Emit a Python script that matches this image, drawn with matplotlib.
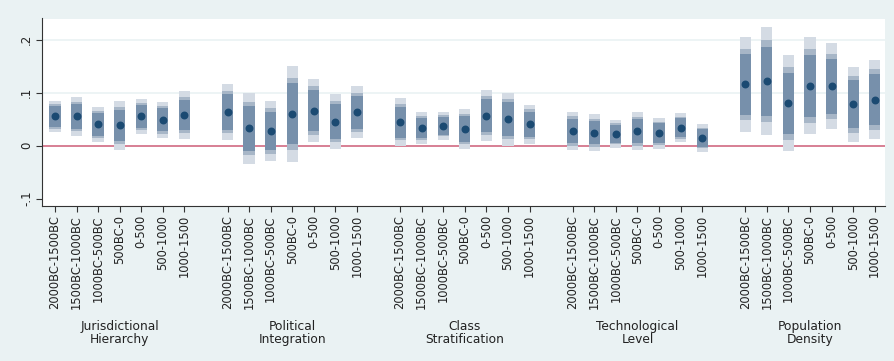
import numpy as np
import matplotlib.pyplot as plt
from matplotlib.transforms import blended_transform_factory

# Group names and periods
groups = ['Jurisdictional\nHierarchy', 'Political\nIntegration', 'Class\nStratification',
          'Technological\nLevel', 'Population\nDensity']
periods = ['2000BC-1500BC', '1500BC-1000BC', '1000BC-500BC', '500BC-0',
           '0-500', '500-1000', '1000-1500']

# Point estimates per group
coef_jh = [0.055, 0.055, 0.040, 0.038, 0.055, 0.0485, 0.058]
coef_pi = [0.063, 0.0325, 0.028, 0.060, 0.066, 0.0455, 0.063]
coef_cs = [0.044, 0.0335, 0.0375, 0.031, 0.0567, 0.0497, 0.040]
coef_tl = [0.0275, 0.0247, 0.0222, 0.0271, 0.0233, 0.0339, 0.0146]
coef_pd = [0.1155, 0.1218, 0.080, 0.113, 0.112, 0.078, 0.087]

# Standard errors (from the interval widths)
se_jh = [0.0116, 0.0144, 0.0128, 0.0179, 0.0128, 0.0132, 0.0175]
se_pi = [0.0204, 0.0258, 0.0219, 0.0350, 0.0233, 0.0199, 0.0190]
se_cs = [0.0175, 0.0119, 0.0103, 0.0146, 0.0188, 0.0193, 0.0144]
se_tl = [0.0142, 0.0135, 0.0101, 0.0139, 0.0113, 0.0106, 0.0100]
se_pd = [0.0346, 0.0397, 0.0350, 0.0357, 0.0315, 0.0274, 0.0290]

coefs = [coef_jh, coef_pi, coef_cs, coef_tl, coef_pd]
ses = [se_jh, se_pi, se_cs, se_tl, se_pd]

# 99%, 95%, 90% intervals drawn light -> dark
levels = [(2.576, '#D4DBE4'), (1.960, '#A7B6C7'), (1.645, '#7790AB')]

fig = plt.figure(figsize=(8.95, 3.61), dpi=100, facecolor='#EAF2F3')
ax = fig.add_axes([42 / 895, 1 - 206 / 361, (885.5 - 42) / 895, (206 - 18.5) / 361])
ax.set_facecolor('white')
trans = blended_transform_factory(ax.transData, fig.transFigure)

xpos, xlabels = [], []
for g, (c, s) in enumerate(zip(coefs, ses)):
    x = np.arange(1, 8) + 8 * g
    c = np.array(c)
    s = np.array(s)
    for z, col in levels:
        ax.bar(x, 2 * z * s, bottom=c - z * s, width=0.52, color=col, zorder=2)
    ax.scatter(x, c, s=22, color='#1B4A72', zorder=3)
    xpos.extend(x)
    xlabels.extend(periods)
    ax.text(4 + 8 * g, 1 - 320 / 361, groups[g], transform=trans, ha='center', va='top',
            fontsize=8.8, color='#222222', linespacing=1.0)

ax.axhline(0, color='#D16982', lw=1.2, zorder=1)
for yv in [0.1, 0.2]:
    ax.axhline(yv, color='#EAF2F3', lw=1.2, zorder=0)

ax.set_xlim(0.4, 39.5)
ax.set_ylim(-0.114, 0.24)
ax.set_yticks([-0.1, 0, 0.1, 0.2])
ax.set_yticklabels(['-.1', '0', '.1', '.2'], rotation=90, va='center', fontsize=8.5)
ax.set_xticks(xpos)
ax.set_xticklabels(xlabels, rotation=90, fontsize=8.3)
ax.tick_params(axis='both', color='#333333', length=4, width=0.8, labelcolor='#222222',
               pad=2.5)

for side in ['top', 'right']:
    ax.spines[side].set_visible(False)
for side in ['left', 'bottom']:
    ax.spines[side].set_color('#333333')
    ax.spines[side].set_linewidth(0.8)

plt.savefig('out.png', dpi=100, facecolor=fig.get_facecolor())
